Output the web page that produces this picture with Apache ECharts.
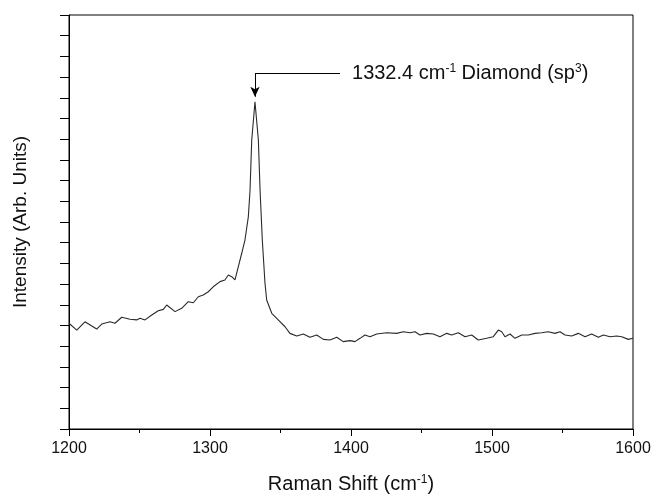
<!DOCTYPE html>
<html>
<head>
<meta charset="utf-8">
<script src="https://cdn.jsdelivr.net/npm/echarts@6/dist/echarts.min.js"></script>
<style>
html,body{margin:0;padding:0;background:#fff;}
#chart{width:653px;height:496px;}
</style>
</head>
<body>
<div id="chart"></div>
<script>
var ramanShift = [1200,1205.5,1211.3,1219.6,1223.2,1229.1,1232.6,1237.4,1243.3,1248.0,1250.4,1253.9,1258.7,1263.3,1266.9,1269.3,1275.2,1279.9,1284.6,1288.2,1291.7,1295.2,1298.8,1302.3,1307.1,1310.6,1313.0,1315.4,1317.7,1320.1,1322.5,1324.8,1327.2,1328.4,1329.6,1331.9,1334.3,1335.5,1337.1,1339.0,1340.2,1343.8,1348.4,1353.2,1356.7,1361.5,1366.2,1370.9,1375.7,1380.4,1385.1,1389.9,1394.5,1399.3,1402.8,1406.4,1409.9,1413.5,1418.2,1425.3,1432.4,1437.1,1441.8,1445.4,1448.9,1453.7,1458.4,1463.1,1467.9,1471.4,1476.1,1480.9,1485.6,1490.3,1496.2,1500.9,1504.5,1506.9,1509.2,1512.8,1516.3,1521.1,1525.8,1530.5,1535.2,1539.9,1544.7,1548.2,1551.8,1556.5,1561.2,1566.0,1570.7,1575.4,1579.0,1583.7,1588.4,1592.0,1596.7,1600];
var intensity = [5.11,4.78,5.18,4.83,5.07,5.18,5.11,5.40,5.30,5.27,5.35,5.27,5.51,5.71,5.78,5.99,5.67,5.83,6.15,6.10,6.39,6.47,6.63,6.87,7.12,7.20,7.44,7.36,7.20,7.84,8.49,9.13,10.26,11.55,13.96,15.81,13.96,11.55,9.13,7.04,6.23,5.59,5.27,4.94,4.62,4.49,4.59,4.43,4.54,4.33,4.30,4.43,4.22,4.27,4.22,4.38,4.54,4.46,4.59,4.65,4.62,4.70,4.65,4.70,4.54,4.62,4.59,4.46,4.62,4.54,4.65,4.46,4.54,4.30,4.38,4.46,4.78,4.70,4.46,4.59,4.38,4.54,4.54,4.62,4.65,4.70,4.62,4.70,4.54,4.49,4.62,4.46,4.59,4.43,4.54,4.46,4.49,4.46,4.33,4.38];
var xTicks = [1200,1300,1400,1500,1600];
var peakShift = 1331.9;
var peakLabel = '1332.4';
var annotY = 17.18;
var arrowTipY = 16.05;
var annotLineEnd = 1392.2;

var font = 'Liberation Sans';
var data = ramanShift.map(function(x,i){return [x, intensity[i]];});

var chart = echarts.init(document.getElementById('chart'), null, {renderer:'canvas'});
chart.setOption({
  animation:false,
  backgroundColor:'#fff',
  textStyle:{fontFamily:font},
  grid:{left:69,right:20,top:15,bottom:67,containLabel:false,outerBoundsMode:'none',show:true,borderColor:'#000',borderWidth:1,backgroundColor:'transparent'},
  xAxis:{
    type:'value',min:xTicks[0],max:xTicks[xTicks.length-1],interval:100,
    axisLine:{lineStyle:{color:'#000',width:1}},
    axisTick:{inside:false,length:7,lineStyle:{color:'#000'}},
    minorTick:{show:true,splitNumber:2,length:4,lineStyle:{color:'#000'}},
    splitLine:{show:false},
    axisLabel:{color:'#111',fontSize:16,fontFamily:font,margin:12,formatter:function(v){return String(v);}},
    name:'{n|Raman Shift (cm}{s|-1}{n|)}',
    nameLocation:'middle',nameGap:45,
    nameTextStyle:{fontSize:20,fontFamily:font,color:'#111',rich:{n:{fontSize:20,fontFamily:font,color:'#111'},s:{fontSize:12,fontFamily:font,color:'#111',verticalAlign:'top',padding:[0,0,9,0]}}}
  },
  yAxis:{
    type:'value',min:0,max:20,interval:1,
    axisLine:{show:true,lineStyle:{color:'#000',width:1}},
    axisTick:{show:true,inside:false,length:9,lineStyle:{color:'#000'}},
    splitLine:{show:false},
    axisLabel:{show:false},
    name:'Intensity (Arb. Units)',
    nameLocation:'middle',nameGap:39,
    nameTextStyle:{fontSize:19,fontFamily:font,color:'#111'}
  },
  series:[{
    type:'line',
    data:data,
    showSymbol:false,
    smooth:false,
    lineStyle:{color:'#2a2a2a',width:1.1},
    markLine:{
      silent:true,
      symbol:['none','none'],
      lineStyle:{color:'#000',width:1,type:'solid'},
      label:{show:false},
      data:[
        [{coord:[peakShift,annotY],symbol:'none'},{coord:[peakShift,arrowTipY],symbol:'arrow',symbolSize:[7,10]}],
        [{coord:[peakShift,annotY],symbol:'none'},{coord:[annotLineEnd,annotY],symbol:'none',
          label:{show:true,position:'end',distance:12,fontSize:20,fontFamily:font,color:'#111',
            formatter:'{n|'+peakLabel+' cm}{s|-1}{n| Diamond (sp}{s|3}{n|)}',
            rich:{n:{fontSize:20,fontFamily:font,color:'#111'},s:{fontSize:12,fontFamily:font,color:'#111',verticalAlign:'top',padding:[0,0,9,0]}}}}]
      ]
    }
  }]
});
</script>
</body>
</html>
